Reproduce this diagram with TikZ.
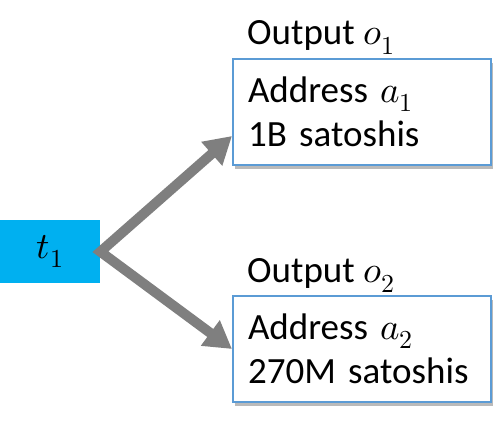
\documentclass[tikz,border=0pt]{standalone}
\usepackage{fontspec}
\usepackage{unicode-math}
\setmainfont{Carlito}
\setmathfont{Latin Modern Math}
\usepackage{xcolor}
\usetikzlibrary{arrows.meta,shadows}
\definecolor{txblue}{RGB}{0,176,240}
\definecolor{outline}{RGB}{91,155,213}
\definecolor{arrgray}{RGB}{127,127,127}

\begin{document}
\begin{tikzpicture}[x=1pt, y=-1pt, every node/.style={font=\fontsize{37}{44}\selectfont}, outbox/.style={draw=outline,line width=2pt,fill=white,anchor=north west,minimum width=258pt,minimum height=106pt,text width=228pt,inner xsep=14pt,align=left,drop shadow={shadow xshift=2pt,shadow yshift=-4pt,opacity=0.45,fill=black!60}}, lbl/.style={anchor=base west,inner sep=0pt}, arr/.style={{Triangle[width=30pt,length=27pt]}-{Triangle[width=30pt,length=27pt]},line width=10pt,draw=arrgray,line join=miter}]
\useasboundingbox (0,0) rectangle (501,430);
\node[fill=txblue,anchor=north west,minimum width=100pt,minimum height=63pt,inner sep=0pt] (t1) at (0,220) {$t_1$};
\node[outbox] (box1) at (232,58) {Address $a_1$\\1B satoshis};
\node[outbox] (box2) at (232,295) {Address $a_2$\\270M satoshis};
\node[lbl] (lbl1) at (247,45) {Output $o_1$};
\node[lbl] (lbl2) at (247,283) {Output $o_2$};
\draw[arr] ([yshift=-24pt]box1.west) -- (t1.east) -- (box2.west);
\end{tikzpicture}
\end{document}
